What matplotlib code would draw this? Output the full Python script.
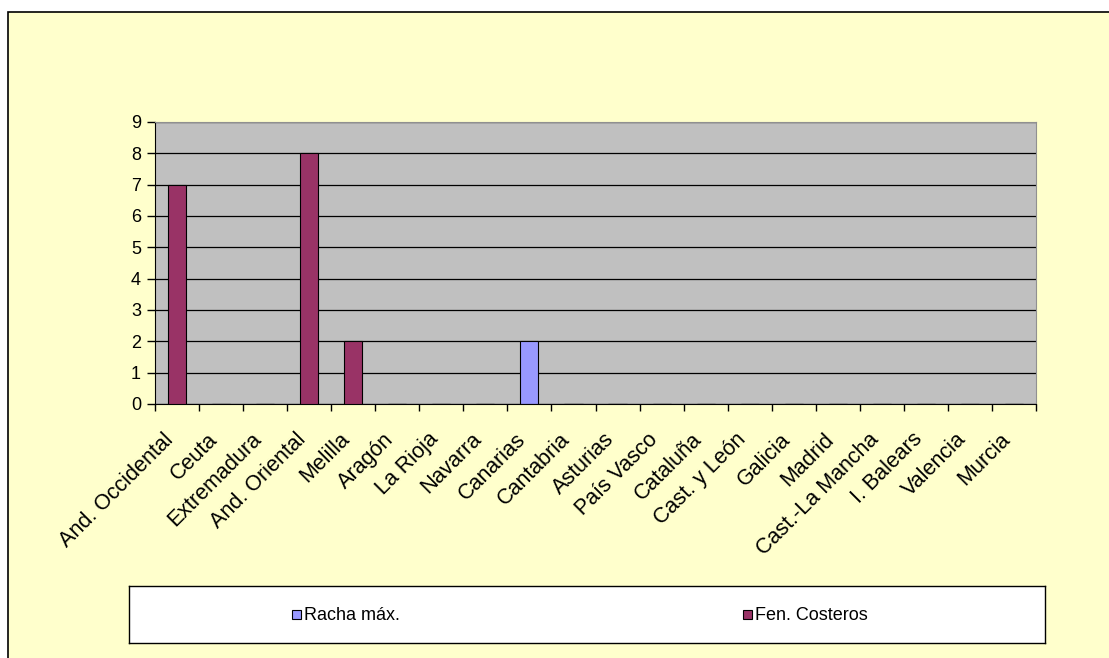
import matplotlib.pyplot as plt
import matplotlib.transforms as mtransforms
from matplotlib.patches import Rectangle
import numpy as np

plt.rcParams['font.family'] = ['Liberation Sans', 'DejaVu Sans']

regiones = ['And. Occidental', 'Ceuta', 'Extremadura', 'And. Oriental', 'Melilla',
            'Aragón', 'La Rioja', 'Navarra', 'Canarias', 'Cantabria', 'Asturias',
            'País Vasco', 'Cataluña', 'Cast. y León', 'Galicia', 'Madrid',
            'Cast.-La Mancha', 'I. Balears', 'Valencia', 'Murcia']
racha_max = [0, 0, 0, 0, 0, 0, 0, 0, 2, 0, 0, 0, 0, 0, 0, 0, 0, 0, 0, 0]
fen_costeros = [7, 0, 0, 8, 2, 0, 0, 0, 0, 0, 0, 0, 0, 0, 0, 0, 0, 0, 0, 0]
series_names = ['Racha máx.', 'Fen. Costeros']
series_colors = ['#9999FF', '#993366']

W, H = 1109, 658
fig = plt.figure(figsize=(W / 100, H / 100), dpi=100)
fig.patch.set_facecolor('white')

# fondo amarillo con borde (area del grafico)
fig.patches.append(Rectangle((8 / W, -0.1), 1.2, (H - 12) / H + 0.1,
                             transform=fig.transFigure, facecolor='#FFFFCC',
                             edgecolor='black', linewidth=1.2, zorder=-5))

ax = fig.add_axes([155 / W, 1 - 404 / H, (1036 - 155) / W, (404 - 122) / H])
ax.set_facecolor('#C0C0C0')
x = np.arange(len(regiones))
bw = 0.41
ax.bar(x, racha_max, width=bw, color=series_colors[0], edgecolor='black', linewidth=0.8, zorder=3)
ax.bar(x, fen_costeros, width=bw, color=series_colors[1], edgecolor='black', linewidth=0.8, zorder=3)

ax.set_xlim(-0.5, len(regiones) - 0.5)
ax.set_ylim(0, 9)
ax.set_yticks(range(10))
ax.yaxis.grid(True, color='black', linewidth=0.9, zorder=1)
ax.set_axisbelow(True)

ax.set_xticks(np.arange(len(regiones) + 1) - 0.5)
ax.set_xticklabels([])
ax.set_xticks(x, minor=True)
ax.set_xticklabels(regiones, minor=True, rotation=45, ha='right', va='top',
                   rotation_mode='anchor', fontsize=15.5)
ax.tick_params(axis='x', which='minor', length=0, pad=18)
ax.tick_params(axis='x', which='major', length=5, width=1, direction='out')
ax.tick_params(axis='y', length=6, width=1, direction='out', labelsize=13, pad=4)
shift = mtransforms.ScaledTranslation(-14 / 100, 0, fig.dpi_scale_trans)
for lab in ax.get_xticklabels(minor=True):
    lab.set_transform(lab.get_transform() + shift)

for s in ['top', 'right']:
    ax.spines[s].set_color('#909090')
    ax.spines[s].set_linewidth(0.8)
ax.spines['left'].set_color('black')
ax.spines['bottom'].set_color('black')

# leyenda
lax = fig.add_axes([129 / W, 1 - 643 / H, (1045 - 129) / W, (643 - 586) / H])
lax.set_facecolor('white')
lax.set_xticks([])
lax.set_yticks([])
for s in lax.spines.values():
    s.set_color('black')
    s.set_linewidth(1)
lax.set_xlim(0, 916)
lax.set_ylim(0, 57)
for name, col, px in zip(series_names, series_colors, [163, 614]):
    lax.add_patch(Rectangle((px, 24), 9, 9, facecolor=col, edgecolor='black', linewidth=0.8))
    lax.text(px + 12, 28, name, fontsize=13, va='center', ha='left')

fig.savefig('out.png', dpi=100)
